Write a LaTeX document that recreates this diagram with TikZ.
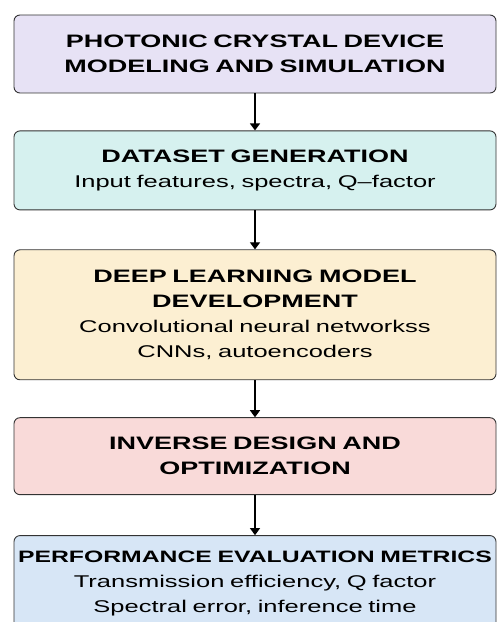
\documentclass[tikz,border=0pt]{standalone}
\usepackage{fontspec}
\setmainfont{Liberation Sans}[FakeStretch=1.5]
\usetikzlibrary{positioning,arrows.meta}

\definecolor{modelfill}{HTML}{E7E2F5}
\definecolor{datafill}{HTML}{D6F1EF}
\definecolor{learnfill}{HTML}{FCEFD2}
\definecolor{designfill}{HTML}{F9DAD9}
\definecolor{evalfill}{HTML}{D7E6F6}

\newcommand{\stagetitle}[1]{{\fontsize{18}{25}\selectfont\bfseries #1}}

\begin{document}
\begin{tikzpicture}[x=1pt, y=1pt,
    stage/.style={rectangle, rounded corners=6pt, draw=black!80, line width=0.9pt,
      text width=474pt, inner xsep=4pt, align=center, font=\fontsize{17}{25}\selectfont},
    flow/.style={-{Triangle[width=10pt,length=7pt]}, line width=1.3pt}]
    \useasboundingbox (0,0) rectangle (498,622);
    \clip (0,0) rectangle (498,622);

    % Stages, top to bottom
    \node[stage, fill=modelfill, minimum height=78pt] (model) at (255,568)
      {\stagetitle{PHOTONIC CRYSTAL DEVICE}\\ \stagetitle{MODELING AND SIMULATION}};
    \node[stage, fill=datafill, minimum height=79pt, below=37pt of model] (dataset)
      {\stagetitle{DATASET GENERATION}\\ Input features, spectra, Q--factor};
    \node[stage, fill=learnfill, minimum height=130pt, below=39pt of dataset] (learning)
      {\stagetitle{DEEP LEARNING MODEL}\\ \stagetitle{DEVELOPMENT}\\
       Convolutional neural networkss\\ CNNs, autoencoders};
    \node[stage, fill=designfill, minimum height=77pt, below=37pt of learning] (design)
      {\stagetitle{INVERSE DESIGN AND}\\ \stagetitle{OPTIMIZATION}};
    \node[stage, fill=evalfill, minimum height=96pt, below=40pt of design] (metrics)
      {{\fontsize{16.5}{25}\selectfont\bfseries PERFORMANCE EVALUATION METRICS}\\
       Transmission efficiency, Q factor\\ Spectral error, inference time};

    % Flow between stages
    \draw[flow] (model) -- (dataset);
    \draw[flow] (dataset) -- (learning);
    \draw[flow] (learning) -- (design);
    \draw[flow] (design) -- (metrics);
\end{tikzpicture}
\end{document}
